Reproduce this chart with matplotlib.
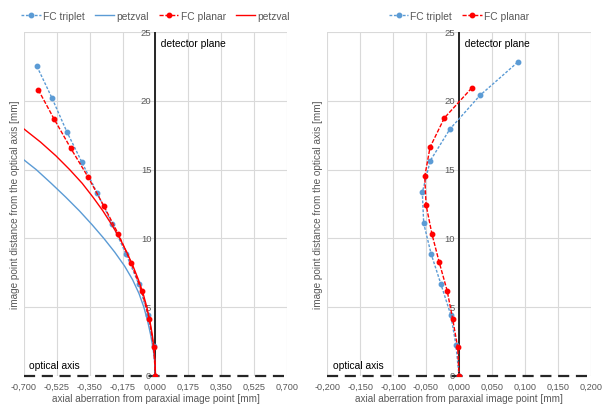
import numpy as np
import matplotlib
matplotlib.use("Agg")
import matplotlib.pyplot as plt
import matplotlib.transforms as mtransforms

# left chart data
left_triplet_x = [-0.631, -0.551, -0.472, -0.393, -0.311, -0.231, -0.157, -0.088, -0.040, -0.010, 0.0]
left_triplet_y = [22.5, 20.2, 17.75, 15.57, 13.3, 11.07, 8.87, 6.65, 4.43, 2.2, 0.0]
left_planar_x = [-0.624, -0.540, -0.451, -0.359, -0.276, -0.198, -0.130, -0.073, -0.033, -0.0096, 0.0]
left_planar_y = [20.8, 18.68, 16.55, 14.46, 12.38, 10.32, 8.23, 6.15, 4.14, 2.08, 0.0]
petzval_blue_x = [0.0, -0.003, -0.013, -0.026, -0.042, -0.062, -0.088, -0.122, -0.165,
                  -0.217, -0.275, -0.338, -0.405, -0.478, -0.555, -0.635, -0.70]
petzval_blue_y = [0, 1, 2, 3, 4, 5, 6, 7, 8, 9, 10, 11, 12, 13, 14, 15, 15.7]
petzval_red_x = [0.0, -0.002, -0.008, -0.017, -0.030, -0.046, -0.066, -0.091, -0.12, -0.153,
                 -0.19, -0.233, -0.28, -0.333, -0.39, -0.457, -0.53, -0.612, -0.70]
petzval_red_y = [0, 1, 2, 3, 4, 5, 6, 7, 8, 9, 10, 11, 12, 13, 14, 15, 16, 17, 17.95]

# right chart data
right_triplet_x = [0.089, 0.032, -0.0137, -0.0436, -0.0557, -0.0536, -0.0425, -0.0275, -0.0126, -0.0046, 0.0]
right_triplet_y = [22.8, 20.4, 17.95, 15.65, 13.35, 11.1, 8.9, 6.68, 4.46, 2.25, 0.0]
right_planar_x = [0.0193, -0.0223, -0.044, -0.052, -0.050, -0.041, -0.030, -0.018, -0.0096, -0.002, 0.0]
right_planar_y = [20.93, 18.75, 16.62, 14.5, 12.43, 10.3, 8.26, 6.2, 4.14, 2.08, 0.0]

left_xticks = np.arange(-0.7, 0.7001, 0.175)
right_xticks = np.arange(-0.2, 0.2001, 0.05)
yticks = [0, 5, 10, 15, 20, 25]

BLUE = "#5b9bd5"
RED = "#ff0000"
GRAY = "#595959"

plt.rcParams["font.family"] = ["Liberation Sans", "DejaVu Sans"]
fig = plt.figure(figsize=(6.02, 4.06), dpi=100)
ax1 = fig.add_axes([24 / 602, 1 - 377 / 406, 263 / 602, 344 / 406])
ax2 = fig.add_axes([327.3 / 602, 1 - 377 / 406, 263.4 / 602, 344 / 406])


def fmt(v):
    s = f"{v:.3f}".replace(".", ",")
    if s.startswith("-0,000"):
        s = "0,000"
    return s


def style(ax, xticks):
    ax.set_xlim(xticks[0], xticks[-1])
    ax.set_ylim(0, 25)
    ax.set_xticks(xticks)
    ax.set_xticklabels([fmt(v) for v in xticks], fontsize=6.6, color=GRAY)
    ax.set_yticks(yticks)
    ax.set_yticklabels([])
    ax.tick_params(length=0, pad=4)
    ax.grid(True, color="#d9d9d9", linewidth=0.8)
    ax.set_axisbelow(True)
    for s in ax.spines.values():
        s.set_visible(False)
    ax.set_xlabel("axial aberration from paraxial image point [mm]", fontsize=7.2, color=GRAY, labelpad=2)
    ax.set_ylabel("image point distance from the optical axis [mm]", fontsize=7.2, color=GRAY, labelpad=-1)
    # y tick labels sit next to the detector plane
    tr = mtransforms.offset_copy(ax.transData, fig=fig, x=-3, y=0, units="points")
    for v in yticks:
        ax.text(0, v, str(v), transform=tr, ha="right", va="center", fontsize=6.8, color=GRAY, zorder=1)
    ax.axvline(0, color="#262626", linewidth=1.4, zorder=2)
    ax.axhline(0, color="#262626", linewidth=1.6, linestyle=(0, (5, 3)), zorder=2, clip_on=False)
    ax.text(0, 24.6, "  detector plane", transform=ax.transData, ha="left", va="top", fontsize=7.4, color="black")
    ax.text(0.02, 0.4, "optical axis", transform=mtransforms.blended_transform_factory(ax.transAxes, ax.transData),
            ha="left", va="bottom", fontsize=7.4, color="black")


style(ax1, left_xticks)
style(ax2, right_xticks)

dot = (0, (2, 1.2))
dash = (0, (3, 1.2))

ax1.plot(left_triplet_x, left_triplet_y, color=BLUE, linestyle=dot, linewidth=1, marker="o", markersize=3.2, label="FC triplet", zorder=3)
ax1.plot(petzval_blue_x, petzval_blue_y, color=BLUE, linewidth=1, label="petzval", zorder=3)
ax1.plot(left_planar_x, left_planar_y, color=RED, linestyle=dash, linewidth=1, marker="o", markersize=3.2, label="FC planar", zorder=4)
ax1.plot(petzval_red_x, petzval_red_y, color=RED, linewidth=1, label="petzval", zorder=3)

ax2.plot(right_triplet_x, right_triplet_y, color=BLUE, linestyle=dot, linewidth=1, marker="o", markersize=3.2, label="FC triplet", zorder=3)
ax2.plot(right_planar_x, right_planar_y, color=RED, linestyle=dash, linewidth=1, marker="o", markersize=3.2, label="FC planar", zorder=4)

for ax, n in ((ax1, 4), (ax2, 2)):
    leg = ax.legend(loc="lower center", bbox_to_anchor=(0.5, 1.0), ncol=n, frameon=False, fontsize=7.4,
                    handlelength=1.9, handletextpad=0.2, columnspacing=1.0, borderaxespad=0.7)
    for t in leg.get_texts():
        t.set_color(GRAY)

fig.savefig("out.png", dpi=100)
